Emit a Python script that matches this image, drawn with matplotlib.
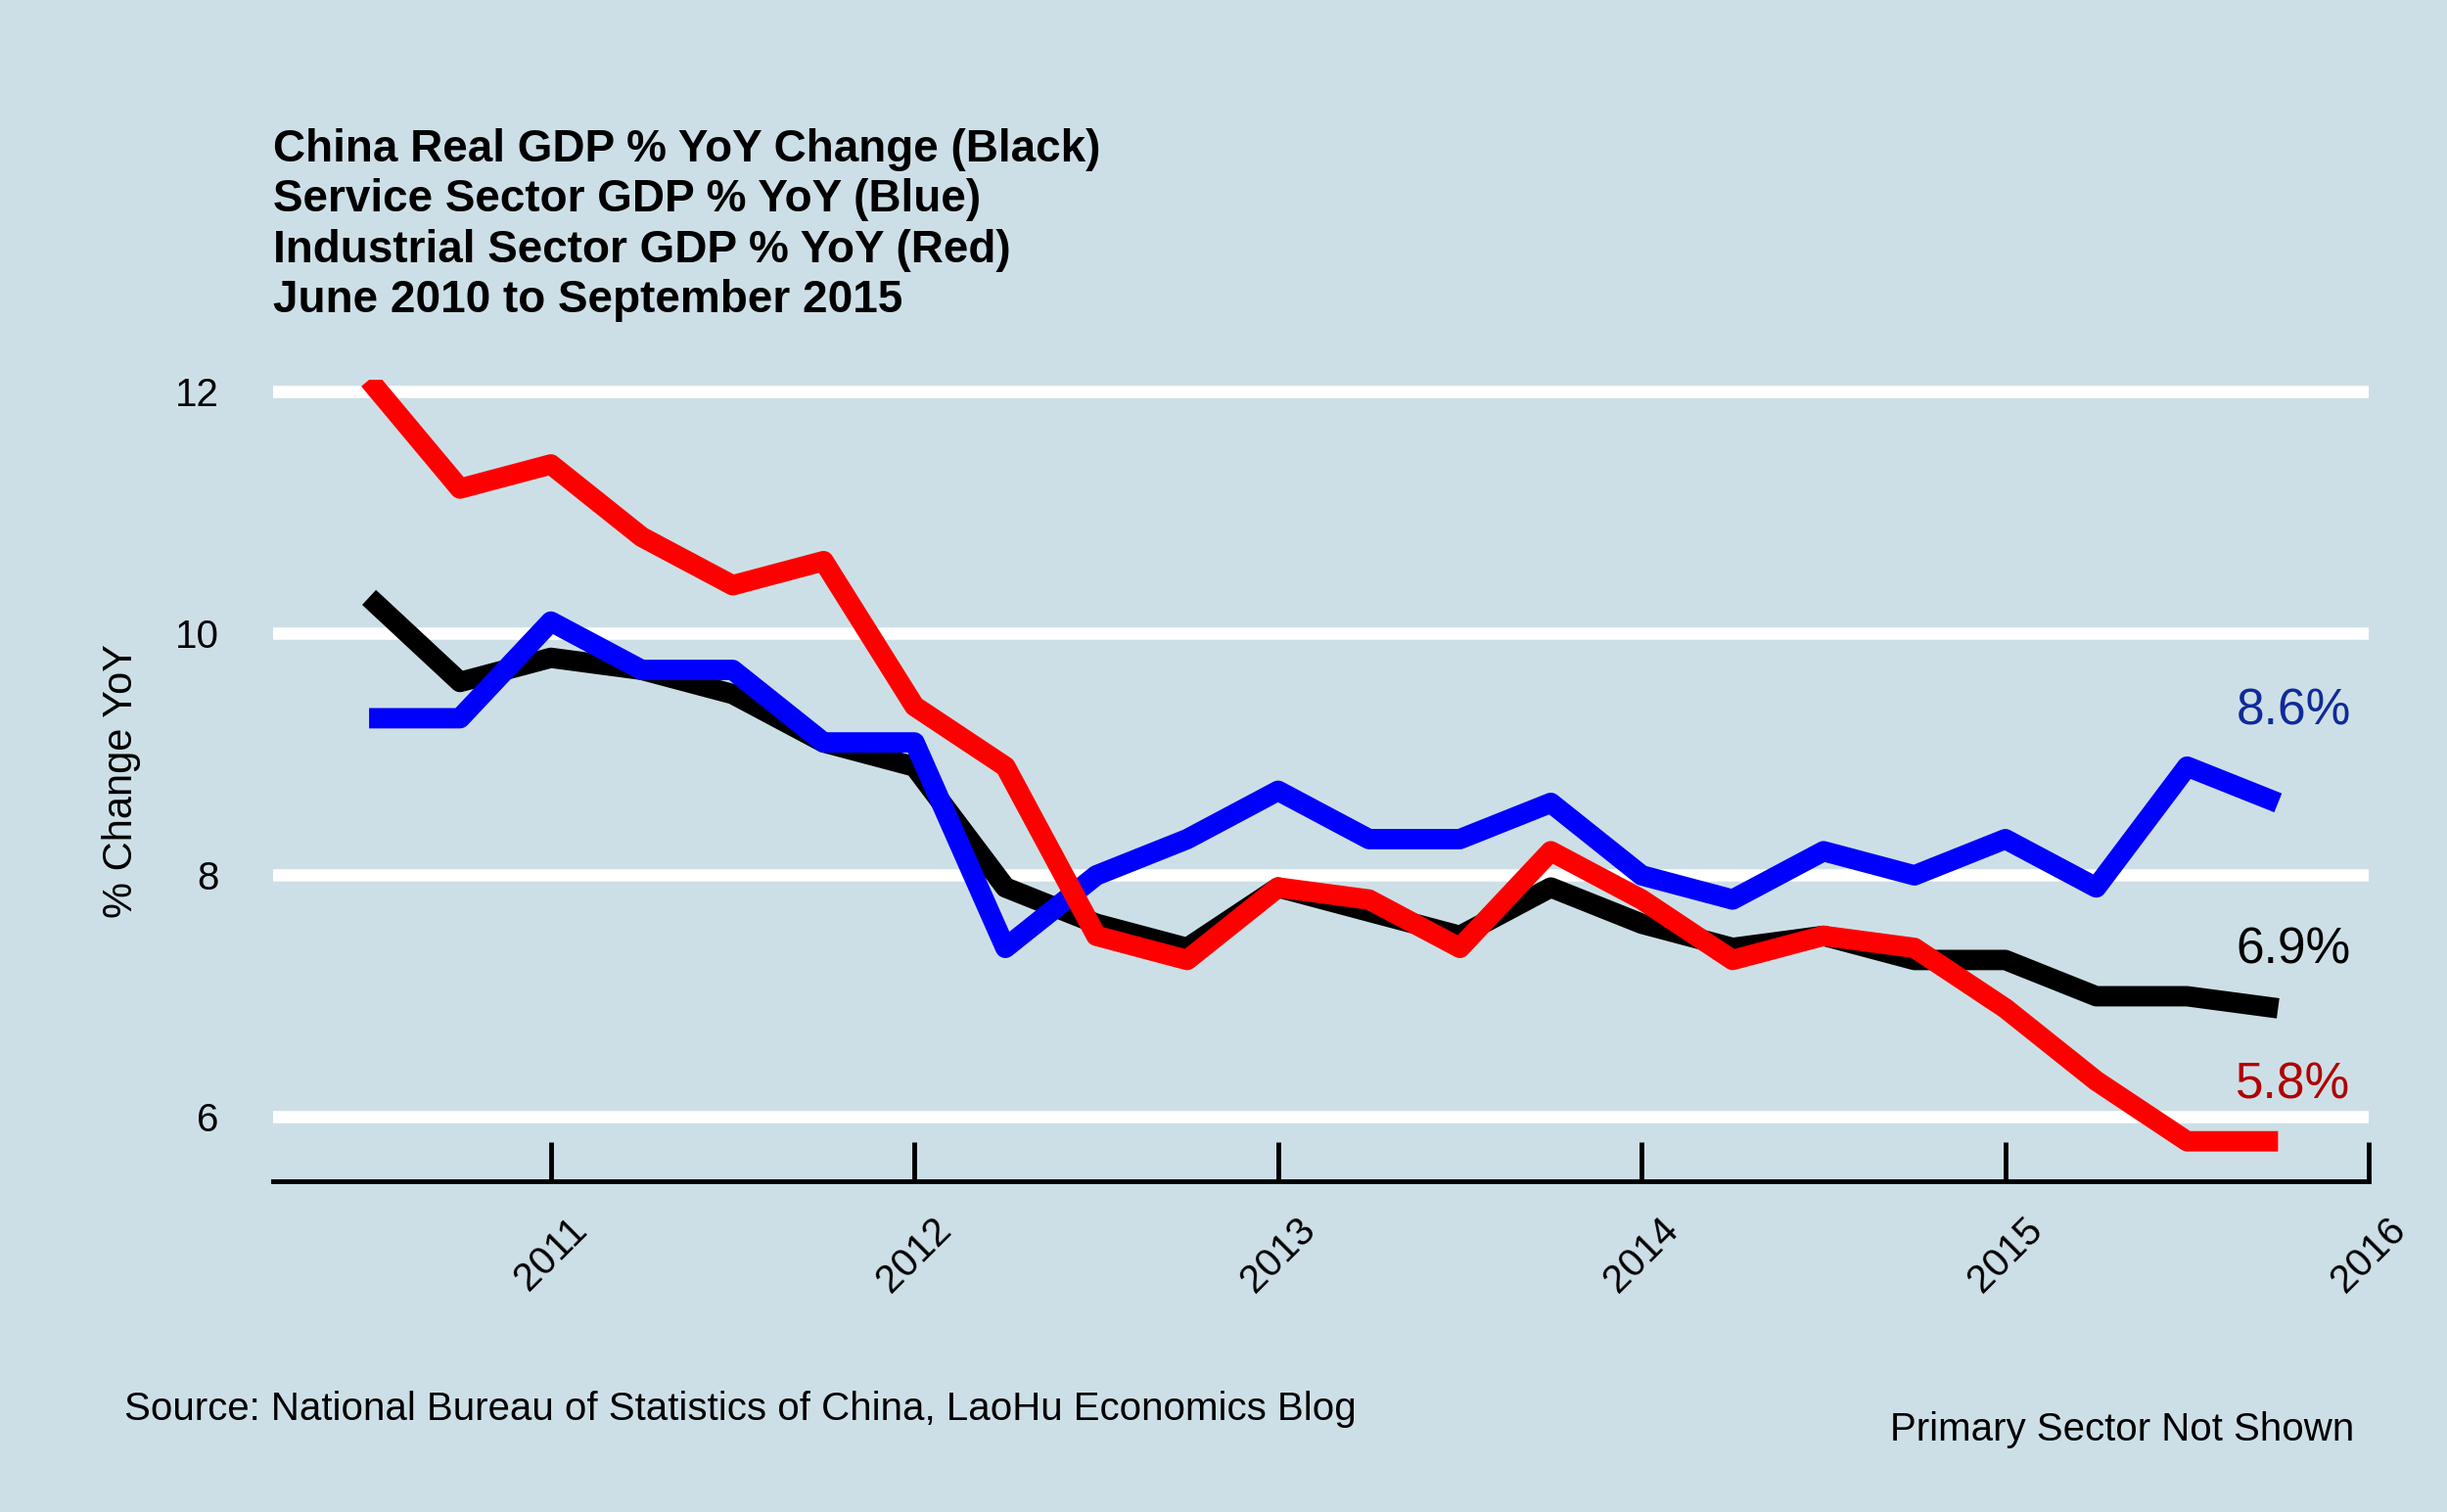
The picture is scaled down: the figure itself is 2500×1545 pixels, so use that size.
"""
plot_gdp.py
-----------
China GDP growth by sector, quarterly YoY change.
"""
from __future__ import annotations

import numpy as np
import matplotlib
matplotlib.use("Agg")          # off-screen backend — no display needed
import matplotlib.pyplot as plt

plt.rcParams["font.family"] = ["Liberation Sans", "DejaVu Sans"]

# ── quarterly data, June 2010 .. September 2015 ─────────────────────────────
_T = 2010.5 + 0.25 * np.arange(22)
_GDP = {
    "black": [10.3, 9.6, 9.8, 9.7, 9.5, 9.1, 8.9, 7.9, 7.6, 7.4, 7.9,
              7.7, 7.5, 7.9, 7.6, 7.4, 7.5, 7.3, 7.3, 7.0, 7.0, 6.9],
    "blue":  [9.3, 9.3, 10.1, 9.7, 9.7, 9.1, 9.1, 7.4, 8.0, 8.3, 8.7,
              8.3, 8.3, 8.6, 8.0, 7.8, 8.2, 8.0, 8.3, 7.9, 8.9, 8.6],
    "red":   [12.1, 11.2, 11.4, 10.8, 10.4, 10.6, 9.4, 8.9, 7.5, 7.3, 7.9,
              7.8, 7.4, 8.2, 7.8, 7.3, 7.5, 7.4, 6.9, 6.3, 5.8, 5.8],
}
_BG = "#cddfe6"


def plot_gdp(filename: str = "out.png") -> str:
    fig = plt.figure(figsize=(25, 15.45), facecolor=_BG)
    ax  = fig.add_axes([0.1116, 0.2188, 0.8565, 0.53], facecolor=_BG)

    # ── gridlines behind the series ──────────────────────────────────────────
    for y in (6, 8, 10, 12):
        ax.axhline(y, color="white", linewidth=9, zorder=1)

    ax.plot(_T, _GDP["black"], color="black", linewidth=15, zorder=2,
            solid_capstyle="butt")
    ax.plot(_T, _GDP["blue"],  color="#0000ff", linewidth=15, zorder=3,
            solid_capstyle="butt")
    ax.plot(_T, _GDP["red"],   color="#ff0000", linewidth=15, zorder=4,
            solid_capstyle="butt")

    # ── end labels ───────────────────────────────────────────────────────────
    ax.text(2015.95, 9.25, "8.6%", color="#102a9a", fontsize=37, ha="right")
    ax.text(2015.95, 7.27, "6.9%", color="black",   fontsize=37, ha="right")
    ax.text(2015.95, 6.15, "5.8%", color="#b00000", fontsize=37, ha="right")

    ax.set_xlim(2010.236, 2016)
    ax.set_ylim(5.47, 12.1)
    ax.set_xticks([2011, 2012, 2013, 2014, 2015, 2016])
    ax.set_xticklabels(["2011", "2012", "2013", "2014", "2015", "2016"],
                       rotation=45, fontsize=29, ha="center")
    ax.set_yticks([6, 8, 10, 12])
    ax.set_yticklabels(["6", "8", "10", "12"], fontsize=29)
    ax.tick_params(axis="x", length=29, width=3.5, pad=22, direction="in")
    ax.tick_params(axis="y", length=0, pad=40)
    for side in ("top", "right", "left"):
        ax.spines[side].set_visible(False)
    ax.spines["bottom"].set_linewidth(3.5)
    ax.set_ylabel("% Change YoY", fontsize=30, labelpad=25)

    # ── titles and notes ─────────────────────────────────────────────────────
    fig.text(0.1116, 0.787,
             "China Real GDP % YoY Change (Black)\n"
             "Service Sector GDP % YoY (Blue)\n"
             "Industrial Sector GDP % YoY (Red)\n"
             "June 2010 to September 2015",
             fontsize=33, fontweight="bold", linespacing=1.22, va="bottom")
    fig.text(0.051, 0.061,
             "Source: National Bureau of Statistics of China, LaoHu Economics Blog",
             fontsize=29)
    fig.text(0.962, 0.047, "Primary Sector Not Shown", fontsize=29, ha="right")

    plt.savefig(filename, dpi=100, facecolor=_BG)
    plt.close(fig)
    return filename


plot_gdp("out.png")
